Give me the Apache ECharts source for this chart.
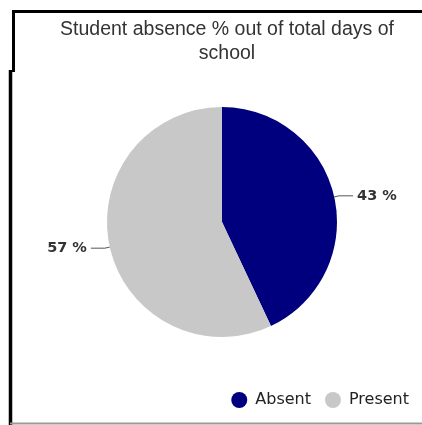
<!DOCTYPE html>
<html>
<head>
<meta charset="utf-8">
<script src="https://cdn.jsdelivr.net/npm/echarts@6/dist/echarts.min.js"></script>
<style>
html,body{margin:0;padding:0;background:#fff;}
#chart{width:422px;height:425px;}
</style>
</head>
<body>
<div id="chart"></div>
<script>
const categories = ['Absent', 'Present'];
const values = [43, 57];
const colors = ['#00007f', '#c8c8c8'];
const titleText = 'Student absence % out of total days of\nschool';

const chart = echarts.init(document.getElementById('chart'));
chart.setOption({
  animation: false,
  backgroundColor: '#fff',
  title: {
    text: titleText,
    left: 222,
    textAlign: 'center',
    top: 13,
    textStyle: {
      fontFamily: 'Liberation Sans, Arial, sans-serif',
      fontSize: 19.5,
      fontWeight: 'normal',
      color: '#333',
      lineHeight: 24
    }
  },
  legend: {
    data: categories,
    right: 8,
    top: 387,
    icon: 'circle',
    itemWidth: 16,
    itemHeight: 16,
    itemGap: 14,
    textStyle: { fontFamily: 'DejaVu Sans, sans-serif', fontSize: 16, color: '#222', padding: [0, 0, 0, 3] }
  },
  graphic: [
    { type: 'polyline', shape: { points: [[13.5, 72], [13.5, 11.5], [422, 11.5]] }, style: { stroke: '#000', lineWidth: 3, fill: null } },
    { type: 'line', shape: { x1: 10.5, y1: 70, x2: 10.5, y2: 425 }, style: { stroke: '#000', lineWidth: 3.5 } },
    { type: 'line', shape: { x1: 10, y1: 423.5, x2: 422, y2: 423.5 }, style: { stroke: '#999', lineWidth: 2 } }
  ],
  series: [{
    type: 'pie',
    center: [222, 222],
    radius: [0, 115],
    startAngle: 90,
    clockwise: true,
    color: colors,
    data: categories.map((c, i) => ({ name: c, value: values[i] })),
    label: {
      show: true,
      formatter: p => p.value + ' %',
      fontFamily: 'DejaVu Sans, sans-serif',
      fontSize: 14.5,
      fontWeight: 'bold',
      color: '#333',
      distanceToLabelLine: 4
    },
    labelLine: {
      show: true,
      length: 5,
      length2: 14,
      lineStyle: { color: '#555', width: 1 }
    },
    itemStyle: { borderWidth: 0 },
    emphasis: { disabled: true }
  }]
});
</script>
</body>
</html>
